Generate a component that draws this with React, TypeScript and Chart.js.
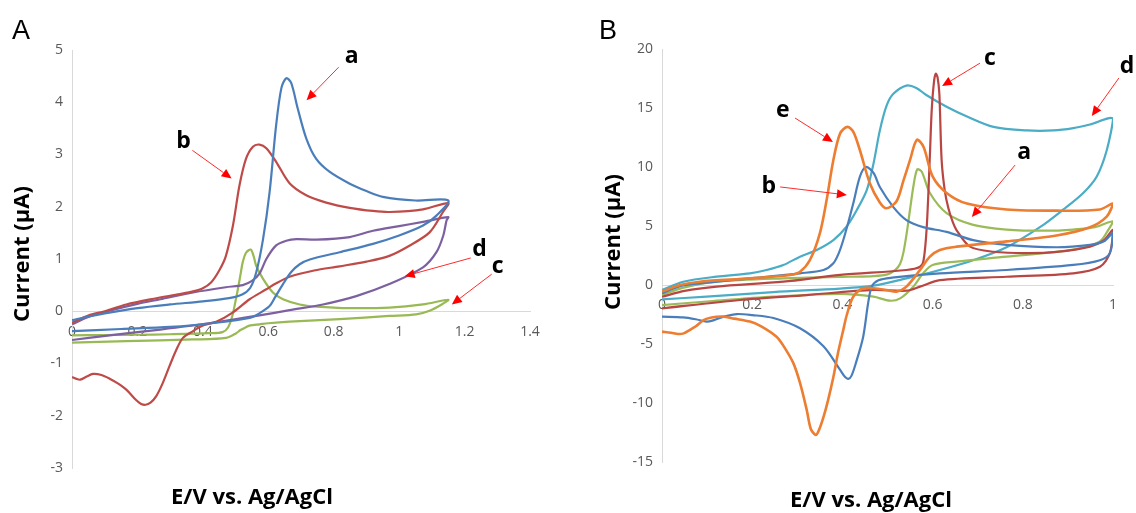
import React, { useEffect, useRef } from "react";
import { Chart, registerables } from "chart.js";

Chart.register(...registerables);

// ---------------- Panel A data (E / V, I / µA) ----------------
const A_aE = [0, 0.05, 0.1, 0.2, 0.3, 0.4, 0.48, 0.52, 0.545, 0.563, 0.584, 0.604, 0.624, 0.64, 0.655, 0.67, 0.69, 0.716, 0.746, 0.787, 0.849, 0.9, 0.95, 1.05, 1.15,
  1.114, 1.073, 1.0, 0.92, 0.818, 0.727, 0.696, 0.67, 0.645, 0.62, 0.604, 0.57, 0.543, 0.441, 0.3, 0.15, 0];
const A_aI = [-0.17, -0.1, -0.04, 0.06, 0.13, 0.19, 0.25, 0.32, 0.45, 0.74, 1.38, 2.28, 3.56, 4.27, 4.46, 4.37, 3.88, 3.31, 2.92, 2.67, 2.44, 2.3, 2.19, 2.12, 2.12,
  1.83, 1.64, 1.45, 1.29, 1.13, 0.99, 0.9, 0.75, 0.52, 0.26, 0.1, -0.05, -0.13, -0.22, -0.3, -0.34, -0.38];

const A_bE = [0, 0.05, 0.1, 0.166, 0.25, 0.33, 0.37, 0.4, 0.425, 0.45, 0.47, 0.492, 0.512, 0.532, 0.553, 0.573, 0.594, 0.624, 0.665, 0.716, 0.777, 0.849, 0.92, 0.97, 1.073, 1.15,
  1.134, 1.093, 1.03, 0.97, 0.9, 0.818, 0.74, 0.665, 0.62, 0.594, 0.543, 0.492, 0.441, 0.4, 0.37, 0.339, 0.318, 0.298, 0.277, 0.257, 0.24, 0.225, 0.21, 0.196, 0.166, 0.14, 0.115, 0.09, 0.064, 0.045, 0.025, 0.012, 0];
const A_bI = [-0.22, -0.08, 0.0, 0.13, 0.24, 0.33, 0.38, 0.44, 0.55, 0.78, 1.05, 1.64, 2.41, 2.92, 3.15, 3.19, 3.12, 2.86, 2.45, 2.22, 2.08, 1.98, 1.92, 1.9, 1.95, 2.07,
  1.9, 1.51, 1.25, 1.06, 0.95, 0.86, 0.78, 0.66, 0.52, 0.42, 0.23, -0.02, -0.2, -0.27, -0.38, -0.51, -0.75, -1.05, -1.38, -1.63, -1.75, -1.79, -1.77, -1.7, -1.5, -1.38, -1.29, -1.22, -1.2, -1.25, -1.31, -1.29, -1.26];

const A_cE = [0, 0.1, 0.2, 0.3, 0.42, 0.46, 0.477, 0.49, 0.5, 0.507, 0.515, 0.522, 0.532, 0.546, 0.555, 0.563, 0.584, 0.614, 0.645, 0.696, 0.747, 0.849, 0.97, 1.073, 1.15,
  1.13, 1.093, 1.052, 0.97, 0.818, 0.665, 0.6, 0.573, 0.545, 0.533, 0.515, 0.502, 0.471, 0.37, 0.166, 0];
const A_cI = [-0.46, -0.455, -0.45, -0.44, -0.42, -0.4, -0.31, -0.09, 0.2, 0.42, 0.7, 0.94, 1.12, 1.18, 1.06, 0.87, 0.62, 0.36, 0.23, 0.13, 0.09, 0.06, 0.07, 0.13, 0.22,
  0.13, 0.01, -0.06, -0.09, -0.15, -0.2, -0.23, -0.25, -0.27, -0.3, -0.36, -0.42, -0.51, -0.54, -0.57, -0.6];

const A_dE = [0, 0.05, 0.115, 0.2, 0.27, 0.37, 0.47, 0.522, 0.55, 0.573, 0.594, 0.624, 0.655, 0.686, 0.747, 0.849, 0.92, 1.0, 1.073, 1.15,
  1.145, 1.135, 1.114, 1.073, 0.97, 0.869, 0.767, 0.665, 0.573, 0.42, 0.27, 0.115, 0];
const A_dI = [-0.25, -0.11, 0.01, 0.14, 0.23, 0.36, 0.46, 0.5, 0.58, 0.72, 1.0, 1.26, 1.35, 1.38, 1.37, 1.42, 1.54, 1.63, 1.71, 1.8,
  1.74, 1.45, 1.13, 0.84, 0.52, 0.29, 0.13, 0.02, -0.08, -0.23, -0.35, -0.46, -0.55];

// ---------------- Panel B data ----------------
const B_aE = [0, 0.05, 0.121, 0.269, 0.417, 0.469, 0.5, 0.518, 0.528, 0.535, 0.543, 0.55, 0.558, 0.566, 0.576, 0.594, 0.631, 0.69, 0.764, 0.85, 0.912, 0.96, 1.0,
  0.99, 0.971, 0.912, 0.764, 0.653, 0.6, 0.579, 0.557, 0.528, 0.505, 0.469, 0.395, 0.247, 0.099, 0];
const B_aI = [-0.85, -0.2, 0.28, 0.56, 0.7, 0.75, 0.9, 1.3, 1.8, 2.7, 4.5, 6.4, 8.5, 9.8, 9.6, 7.8, 6.1, 5.1, 4.7, 4.6, 4.7, 4.9, 5.4,
  4.7, 3.7, 3.0, 2.4, 1.98, 1.7, 1.0, -0.14, -1.13, -1.33, -0.99, -0.75, -0.99, -1.4, -1.7];

const B_bE = [0, 0.04, 0.084, 0.195, 0.306, 0.358, 0.38, 0.392, 0.402, 0.413, 0.424, 0.439, 0.452, 0.469, 0.483, 0.513, 0.542, 0.579, 0.631, 0.69, 0.764, 0.875, 0.949, 0.98, 1.0,
  0.993, 0.971, 0.912, 0.764, 0.616, 0.51, 0.48, 0.465, 0.457, 0.446, 0.43, 0.42, 0.413, 0.406, 0.395, 0.358, 0.306, 0.247, 0.2, 0.166, 0.136, 0.115, 0.099, 0.075, 0.047, 0];
const B_bI = [-0.7, -0.1, 0.14, 0.56, 0.99, 1.27, 1.84, 2.7, 3.81, 5.3, 6.9, 9.2, 10.0, 9.5, 8.3, 6.6, 5.5, 4.9, 4.5, 3.8, 3.4, 3.2, 3.4, 3.7, 4.4,
  2.7, 2.1, 1.7, 1.27, 0.99, 0.62, 0.4, -0.14, -1.55, -4.4, -6.6, -7.7, -7.95, -7.8, -7.2, -5.2, -3.67, -2.8, -2.55, -2.46, -2.7, -2.98, -3.1, -2.9, -2.74, -2.68];

const B_cE = [0, 0.05, 0.121, 0.269, 0.395, 0.542, 0.572, 0.58, 0.587, 0.594, 0.598, 0.603, 0.607, 0.611, 0.615, 0.62, 0.627, 0.635, 0.645, 0.653, 0.683, 0.735, 0.809, 0.875, 0.949, 0.98, 1.0,
  0.993, 0.971, 0.912, 0.764, 0.616, 0.572, 0.542, 0.469, 0.321, 0.173, 0];
const B_cI = [-1.0, -0.5, -0.14, 0.28, 0.85, 1.27, 1.55, 2.1, 4.9, 11.0, 14.8, 17.2, 17.9, 17.6, 16.2, 10.6, 8.0, 6.5, 5.3, 4.66, 3.25, 2.82, 2.7, 2.8, 3.25, 3.8, 4.66,
  2.7, 1.55, 0.99, 0.7, 0.42, -0.14, -0.48, -0.42, -0.85, -1.27, -1.98];

const B_dE = [0, 0.047, 0.121, 0.195, 0.232, 0.269, 0.306, 0.343, 0.38, 0.409, 0.432, 0.454, 0.469, 0.483, 0.498, 0.513, 0.542, 0.564, 0.586, 0.631, 0.675, 0.735, 0.809, 0.868, 0.912, 0.949, 1.0,
  0.986, 0.964, 0.934, 0.89, 0.838, 0.764, 0.69, 0.616, 0.542, 0.469, 0.395, 0.247, 0.099, 0];
const B_dI = [-0.42, 0.28, 0.71, 0.99, 1.27, 1.69, 2.4, 2.97, 3.81, 4.94, 6.36, 8.05, 10.3, 13.1, 15.2, 16.2, 16.9, 16.7, 16.1, 15.1, 14.3, 13.4, 13.1, 13.1, 13.3, 13.6, 14.1,
  11.4, 9.2, 7.8, 6.4, 4.9, 3.2, 2.1, 1.27, 0.56, -0.05, -0.3, -0.6, -0.99, -1.21];

const B_eE = [0, 0.04, 0.084, 0.195, 0.284, 0.306, 0.328, 0.35, 0.365, 0.38, 0.395, 0.411, 0.424, 0.439, 0.461, 0.483, 0.498, 0.52, 0.535, 0.55, 0.565, 0.58, 0.6, 0.631, 0.676, 0.764, 0.875, 0.971, 1.0,
  0.986, 0.949, 0.875, 0.764, 0.653, 0.616, 0.594, 0.572, 0.542, 0.52, 0.498, 0.469, 0.446, 0.424, 0.41, 0.402, 0.39, 0.38, 0.368, 0.358, 0.348, 0.341, 0.33, 0.321, 0.306, 0.291, 0.27, 0.254, 0.22, 0.195, 0.16, 0.136, 0.11, 0.092, 0.075, 0.062, 0.048, 0.036, 0.02, 0];
const B_eI = [-0.56, 0.0, 0.28, 0.56, 0.85, 1.13, 2.12, 4.38, 7.2, 10.6, 12.85, 13.4, 13.0, 11.4, 8.6, 7.0, 6.5, 7.1, 8.8, 10.6, 12.3, 11.7, 9.2, 7.8, 6.9, 6.4, 6.3, 6.4, 6.9,
  5.8, 4.9, 4.2, 3.7, 3.25, 2.97, 2.4, 1.27, -0.14, -0.56, -0.42, -0.28, -0.28, -1.0, -2.5, -3.8, -5.8, -7.8, -9.8, -11.2, -12.3, -12.7, -12.2, -10.6, -8.3, -6.6, -5.2, -4.38, -3.5, -3.1, -2.85, -2.68, -2.75, -2.97, -3.5, -3.8, -4.1, -4.15, -4.05, -3.95];

// ---------------- Axes ----------------
const A_xTicks = { min: 0, max: 1.4, step: 0.2 };
const A_yTicks = { min: -3, max: 5, step: 1 };
const B_xTicks = { min: 0, max: 1, step: 0.2 };
const B_yTicks = { min: -15, max: 20, step: 5 };

const X_TITLE = "E/V vs. Ag/AgCl";
const Y_TITLE = "Current (μA)";

// ---------------- Annotations (data coordinates) ----------------
const A_noteText = ["a", "b", "d", "c"];
const A_noteTextE = [0.855, 0.341, 1.246, 1.301];
const A_noteTextI = [4.75, 3.12, 1.06, 0.73];
const A_arrowFrom = [[0.815, 4.67], [0.368, 3.08], [1.219, 1.02], [1.283, 0.71]];
const A_arrowTo = [[0.717, 4.04], [0.488, 2.54], [1.017, 0.67], [1.161, 0.13]];

const B_noteText = ["e", "b", "c", "a", "d"];
const B_noteTextE = [0.268, 0.237, 0.727, 0.803, 1.031];
const B_noteTextI = [14.24, 7.8, 18.64, 10.68, 17.97];
const B_arrowFrom = [[0.295, 14.15], [0.262, 8.31], [0.705, 18.8], [0.783, 10.17], [1.013, 17.54]];
const B_arrowTo = [[0.379, 12.12], [0.41, 7.63], [0.621, 16.86], [0.687, 5.76], [0.953, 14.32]];

const pts = (E: number[], I: number[]) => E.map((e, k) => ({ x: e, y: I[k] }));

const TICK_FONT = { family: "'Open Sans', sans-serif", size: 14 };
const TICK_COLOR = "#595959";
const AXIS_COLOR = "#d9d9d9";
const fmt = (v: any) => String(Math.round(Number(v) * 10) / 10);

function notesPlugin(cfg: any) {
  return {
    id: "cvNotes",
    afterDraw(chart: any) {
      const ctx = chart.ctx as CanvasRenderingContext2D;
      const xs = chart.scales.x;
      const ys = chart.scales.y;
      ctx.save();
      ctx.fillStyle = "#000";
      ctx.font = '27px "Liberation Sans", Arial, sans-serif';
      ctx.textAlign = "left";
      ctx.textBaseline = "alphabetic";
      ctx.fillText(cfg.panel, cfg.panelX, cfg.panelY);

      ctx.font = 'bold 22px "Open Sans", sans-serif';
      ctx.textAlign = "center";
      ctx.fillText(X_TITLE, cfg.xTitleX, cfg.xTitleY);
      ctx.save();
      ctx.translate(cfg.yTitleX, cfg.yTitleY);
      ctx.rotate(-Math.PI / 2);
      ctx.textBaseline = "middle";
      ctx.fillText(Y_TITLE, 0, 0);
      ctx.restore();

      ctx.font = 'bold 23px "Open Sans", sans-serif';
      ctx.textAlign = "center";
      ctx.textBaseline = "alphabetic";
      cfg.text.forEach((t: string, k: number) => {
        ctx.fillStyle = "#000";
        ctx.fillText(t, xs.getPixelForValue(cfg.textE[k]), ys.getPixelForValue(cfg.textI[k]));
        const x1 = xs.getPixelForValue(cfg.from[k][0]);
        const y1 = ys.getPixelForValue(cfg.from[k][1]);
        const x2 = xs.getPixelForValue(cfg.to[k][0]);
        const y2 = ys.getPixelForValue(cfg.to[k][1]);
        const ang = Math.atan2(y2 - y1, x2 - x1);
        const hl = 10, hw = 4.5;
        const bx = x2 - hl * Math.cos(ang);
        const by = y2 - hl * Math.sin(ang);
        ctx.strokeStyle = "#ff2a2a";
        ctx.lineWidth = 1;
        ctx.beginPath();
        ctx.moveTo(x1, y1);
        ctx.lineTo(bx, by);
        ctx.stroke();
        ctx.fillStyle = "#ff0000";
        ctx.beginPath();
        ctx.moveTo(x2, y2);
        ctx.lineTo(bx + hw * Math.sin(ang), by - hw * Math.cos(ang));
        ctx.lineTo(bx - hw * Math.sin(ang), by + hw * Math.cos(ang));
        ctx.closePath();
        ctx.fill();
      });
      ctx.restore();
    },
  };
}

function lineDs(E: number[], I: number[], color: string, width = 2.2) {
  return {
    data: pts(E, I),
    showLine: true,
    borderColor: color,
    backgroundColor: color,
    borderWidth: width,
    pointRadius: 0,
    pointHoverRadius: 0,
    tension: 0.3,
    fill: false,
  };
}

function makeConfig(datasets: any[], xT: any, yT: any, yWidth: number, padding: any, notes: any) {
  return {
    type: "scatter",
    data: { datasets },
    options: {
      animation: false,
      responsive: false,
      events: [],
      layout: { padding },
      plugins: { legend: { display: false }, tooltip: { enabled: false }, title: { display: false } },
      scales: {
        x: {
          type: "linear",
          position: { y: 0 },
          min: xT.min,
          max: xT.max,
          ticks: { stepSize: xT.step, padding: 12, color: TICK_COLOR, font: TICK_FONT, autoSkip: false, maxRotation: 0, callback: fmt },
          grid: { display: false, drawTicks: false },
          border: { display: true, color: AXIS_COLOR, width: 1 },
        },
        y: {
          type: "linear",
          position: "left",
          min: yT.min,
          max: yT.max,
          ticks: { stepSize: yT.step, padding: 9, color: TICK_COLOR, font: TICK_FONT, autoSkip: false, callback: fmt },
          grid: { display: false, drawTicks: false },
          border: { display: true, color: AXIS_COLOR, width: 1 },
          afterFit: (s: any) => {
            s.width = yWidth;
          },
        },
      },
    },
    plugins: [notesPlugin(notes)],
  };
}

function Panel({ left, build }: { left: number; build: () => any }) {
  const ref = useRef<HTMLCanvasElement | null>(null);
  useEffect(() => {
    if (!ref.current) return;
    const chart = new Chart(ref.current, build());
    return () => chart.destroy();
  }, []);
  return (
    <canvas
      ref={ref}
      width={568}
      height={513}
      style={{ position: "absolute", left, top: 0, width: 568, height: 513 }}
    />
  );
}

const buildA = () =>
  makeConfig(
    [
      lineDs(A_aE, A_aI, "#4A7EBB"),
      lineDs(A_bE, A_bI, "#BE4B48"),
      lineDs(A_dE, A_dI, "#7D60A0"),
      lineDs(A_cE, A_cI, "#98B954"),
    ],
    A_xTicks,
    A_yTicks,
    72,
    { left: 0, top: 50, right: 38, bottom: 45 },
    {
      panel: "A", panelX: 12, panelY: 39,
      xTitleX: 252, xTitleY: 504, yTitleX: 23, yTitleY: 254,
      text: A_noteText, textE: A_noteTextE, textI: A_noteTextI, from: A_arrowFrom, to: A_arrowTo,
    }
  );

const buildB = () =>
  makeConfig(
    [
      lineDs(B_eE, B_eI, "#ED7D31", 2.6),
      lineDs(B_bE, B_bI, "#4A7EBB"),
      lineDs(B_cE, B_cI, "#B84744"),
      lineDs(B_aE, B_aI, "#9BBB59"),
      lineDs(B_dE, B_dI, "#4BACC6"),
    ],
    B_xTicks,
    B_yTicks,
    94,
    { left: 0, top: 49, right: 23, bottom: 51 },
    {
      panel: "B", panelX: 31, panelY: 39,
      xTitleX: 303, xTitleY: 507, yTitleX: 45.5, yTitleY: 242,
      text: B_noteText, textE: B_noteTextE, textI: B_noteTextI, from: B_arrowFrom, to: B_arrowTo,
    }
  );

export default function App() {
  return (
    <div style={{ position: "absolute", left: 0, top: 0, width: 1136, height: 513, background: "#fff", overflow: "hidden" }}>
      <Panel left={0} build={buildA} />
      <Panel left={568} build={buildB} />
    </div>
  );
}
